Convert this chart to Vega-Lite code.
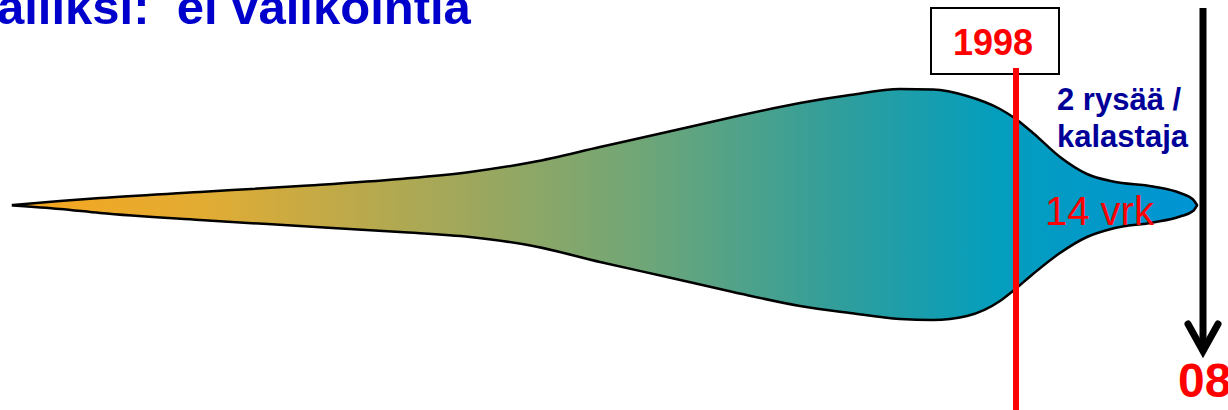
{
  "$schema": "https://vega.github.io/schema/vega-lite/v6.json",
  "width": 1228,
  "height": 410,
  "autosize": {"type": "none"},
  "padding": 0,
  "background": "white",
  "config": {"view": {"stroke": null}},
  "datasets": {
    "shape": [
      {"x": 13, "top": 205, "bottom": 205.5},
      {"x": 60, "top": 201, "bottom": 209},
      {"x": 100, "top": 198, "bottom": 213},
      {"x": 200, "top": 192, "bottom": 220},
      {"x": 300, "top": 186, "bottom": 226},
      {"x": 400, "top": 179, "bottom": 232},
      {"x": 470, "top": 172, "bottom": 237},
      {"x": 533, "top": 162, "bottom": 246},
      {"x": 600, "top": 147, "bottom": 262},
      {"x": 667, "top": 132, "bottom": 277},
      {"x": 733, "top": 117, "bottom": 292},
      {"x": 800, "top": 103, "bottom": 306},
      {"x": 850, "top": 95, "bottom": 313},
      {"x": 900, "top": 89, "bottom": 319},
      {"x": 933, "top": 89.5, "bottom": 320},
      {"x": 967, "top": 96, "bottom": 316},
      {"x": 1000, "top": 109, "bottom": 301},
      {"x": 1013, "top": 117, "bottom": 291},
      {"x": 1033, "top": 133, "bottom": 274},
      {"x": 1060, "top": 157, "bottom": 253},
      {"x": 1087, "top": 174, "bottom": 237},
      {"x": 1113, "top": 181.5, "bottom": 228.5},
      {"x": 1153, "top": 186.5, "bottom": 222.5},
      {"x": 1180, "top": 193, "bottom": 216.5},
      {"x": 1193, "top": 199.5, "bottom": 211},
      {"x": 1197, "top": 205, "bottom": 205.5}
    ]
  },
  "encoding": {},
  "layer": [
    {
      "data": {"name": "shape"},
      "mark": {
        "type": "area",
        "interpolate": "monotone",
        "stroke": "black",
        "strokeWidth": 2.5,
        "fill": {
          "gradient": "linear",
          "x1": 0, "y1": 0, "x2": 1, "y2": 0,
          "stops": [
            {"offset": 0, "color": "#F8A61E"},
            {"offset": 0.16, "color": "#E2AC33"},
            {"offset": 0.36, "color": "#A6A858"},
            {"offset": 0.53, "color": "#70A677"},
            {"offset": 0.70, "color": "#2F9E9C"},
            {"offset": 0.83, "color": "#049EBD"},
            {"offset": 1, "color": "#0094D4"}
          ]
        }
      },
      "encoding": {
        "x": {"field": "x", "type": "quantitative", "scale": {"domain": [0, 1228], "nice": false, "zero": false}, "axis": null},
        "y": {"field": "top", "type": "quantitative", "scale": {"domain": [0, 410], "nice": false, "zero": false, "reverse": true}, "axis": null},
        "y2": {"field": "bottom"}
      }
    },
    {
      "data": {"values": [{"x1": 931, "x2": 1059, "y1": 8, "y2": 74}]},
      "mark": {"type": "rect", "fill": "white", "stroke": "black", "strokeWidth": 2},
      "encoding": {
        "x": {"field": "x1", "type": "quantitative"},
        "x2": {"field": "x2"},
        "y": {"field": "y1", "type": "quantitative"},
        "y2": {"field": "y2"}
      }
    },
    {
      "data": {"values": [{"x": 1016, "y1": 68, "y2": 412}]},
      "mark": {"type": "rule", "color": "#FF0000", "strokeWidth": 6},
      "encoding": {
        "x": {"field": "x", "type": "quantitative"},
        "y": {"field": "y1", "type": "quantitative"},
        "y2": {"field": "y2"}
      }
    },
    {
      "data": {"values": [{"x": 1203, "y1": 8, "y2": 350}]},
      "mark": {"type": "rule", "color": "black", "strokeWidth": 7},
      "encoding": {
        "x": {"field": "x", "type": "quantitative"},
        "y": {"field": "y1", "type": "quantitative"},
        "y2": {"field": "y2"}
      }
    },
    {
      "data": {"values": [{"x": 1188, "y": 324, "o": 1}, {"x": 1203, "y": 351, "o": 2}, {"x": 1218, "y": 324, "o": 3}]},
      "mark": {"type": "line", "color": "black", "strokeWidth": 7, "strokeCap": "round", "strokeJoin": "miter"},
      "encoding": {
        "x": {"field": "x", "type": "quantitative"},
        "y": {"field": "y", "type": "quantitative"},
        "order": {"field": "o"}
      }
    },
    {
      "data": {"values": [{"x": -3, "y": 24, "label": "alliksi:\u00a0 ei valikointia"}]},
      "mark": {"type": "text", "align": "left", "baseline": "alphabetic", "font": "Liberation Sans", "fontWeight": "bold", "fontSize": 49, "color": "#0000CC"},
      "encoding": {
        "x": {"field": "x", "type": "quantitative"},
        "y": {"field": "y", "type": "quantitative"},
        "text": {"field": "label"}
      }
    },
    {
      "data": {"values": [{"x": 993, "y": 55, "label": "1998"}]},
      "mark": {"type": "text", "align": "center", "baseline": "alphabetic", "font": "Liberation Sans", "fontWeight": "bold", "fontSize": 36, "color": "#FF0000"},
      "encoding": {
        "x": {"field": "x", "type": "quantitative"},
        "y": {"field": "y", "type": "quantitative"},
        "text": {"field": "label"}
      }
    },
    {
      "data": {"values": [{"x": 1057, "y": 110, "label": "2 rysää /"}, {"x": 1057, "y": 147, "label": "kalastaja"}]},
      "mark": {"type": "text", "align": "left", "baseline": "alphabetic", "font": "Liberation Sans", "fontWeight": "bold", "fontSize": 31, "color": "#000099"},
      "encoding": {
        "x": {"field": "x", "type": "quantitative"},
        "y": {"field": "y", "type": "quantitative"},
        "text": {"field": "label"}
      }
    },
    {
      "data": {"values": [{"x": 1045, "y": 225, "label": "14 vrk"}]},
      "mark": {"type": "text", "align": "left", "baseline": "alphabetic", "font": "Liberation Sans", "fontWeight": "normal", "fontSize": 40, "color": "#FF0000"},
      "encoding": {
        "x": {"field": "x", "type": "quantitative"},
        "y": {"field": "y", "type": "quantitative"},
        "text": {"field": "label"}
      }
    },
    {
      "data": {"values": [{"x": 1178, "y": 397, "label": "08"}]},
      "mark": {"type": "text", "align": "left", "baseline": "alphabetic", "font": "Liberation Sans", "fontWeight": "bold", "fontSize": 48, "color": "#FF0000"},
      "encoding": {
        "x": {"field": "x", "type": "quantitative"},
        "y": {"field": "y", "type": "quantitative"},
        "text": {"field": "label"}
      }
    }
  ]
}
